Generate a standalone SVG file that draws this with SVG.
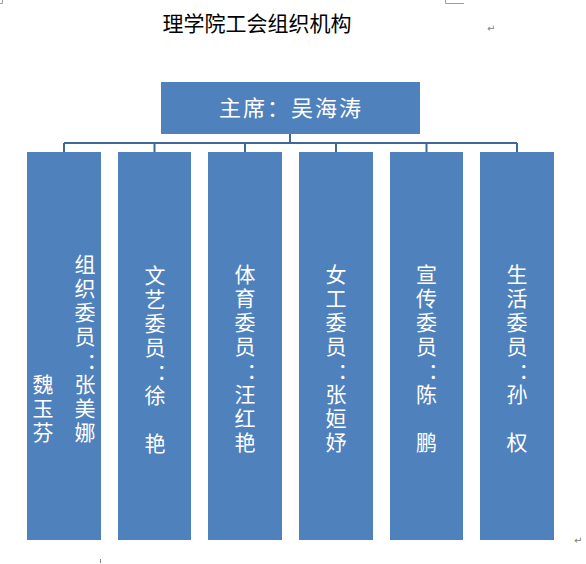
<svg xmlns="http://www.w3.org/2000/svg" width="586" height="564" viewBox="0 0 586 564">
<style>
.box{fill:#4F81BD;}
.lbl{font-family:"Liberation Sans","Noto Sans CJK SC",sans-serif;font-size:21px;fill:#FFFFFF;text-anchor:middle;}
.head{font-family:"Noto Sans CJK SC","Noto Sans",sans-serif;font-size:22px;fill:#FFFFFF;text-anchor:middle;}
.title{font-family:"Noto Sans CJK SC","Noto Sans",sans-serif;font-size:21px;fill:#000000;text-anchor:middle;}
.conn{fill:none;stroke:#41679A;stroke-width:2;}
.mark{fill:none;stroke:#A0A0A0;stroke-width:1;}
.pm{font-family:"DejaVu Sans",sans-serif;font-size:10px;fill:#808080;}
</style>
<rect width="586" height="564" fill="#FFFFFF"/>
<path class="mark" d="M2.5,0 V3.5 H0 M445.5,0 V3.5 H464"/>
<path d="M100.5,559 V563" stroke="#808080" stroke-width="1"/>
<text class="pm" x="487" y="32">↵</text>
<text class="pm" x="574" y="544">↵</text>
<text class="title" x="257" y="31">理学院工会组织机构</text>
<g id="connectors">
<path class="conn" d="M290,134 V143 M64,143 H517 M64,143 V152 M154.5,143 V152 M245,143 V152 M336,143 V152 M426.5,143 V152 M517,143 V152"/>
</g>
<g id="chair">
<rect class="box" x="161" y="82" width="259" height="52"/>
<text class="head" x="291" y="116" letter-spacing="2">主席：吴海涛</text>
</g>
<g id="zuzhi">
<rect class="box" x="27" y="152" width="74" height="388"/>
<text class="lbl"><tspan x="85" y="272">组</tspan><tspan x="85" y="296">织</tspan><tspan x="85" y="320">委</tspan><tspan x="85" y="344">员</tspan><tspan x="97" y="368">：</tspan><tspan x="85" y="392">张</tspan><tspan x="85" y="416">美</tspan><tspan x="85" y="440">娜</tspan></text>
<text class="lbl"><tspan x="43" y="392">魏</tspan><tspan x="43" y="416">玉</tspan><tspan x="43" y="440">芬</tspan></text>
</g>
<g id="wenyi">
<rect class="box" x="118" y="152" width="73" height="388"/>
<text class="lbl"><tspan x="155" y="283">文</tspan><tspan x="155" y="307">艺</tspan><tspan x="155" y="331">委</tspan><tspan x="155" y="355">员</tspan><tspan x="167" y="379">：</tspan><tspan x="155" y="403">徐</tspan><tspan x="155" y="451">艳</tspan></text>
</g>
<g id="tiyu">
<rect class="box" x="208" y="152" width="74" height="388"/>
<text class="lbl"><tspan x="245" y="282">体</tspan><tspan x="245" y="306">育</tspan><tspan x="245" y="330">委</tspan><tspan x="245" y="354">员</tspan><tspan x="257" y="378">：</tspan><tspan x="245" y="402">汪</tspan><tspan x="245" y="426">红</tspan><tspan x="245" y="450">艳</tspan></text>
</g>
<g id="nvgong">
<rect class="box" x="299" y="152" width="74" height="388"/>
<text class="lbl"><tspan x="336" y="282">女</tspan><tspan x="336" y="306">工</tspan><tspan x="336" y="330">委</tspan><tspan x="336" y="354">员</tspan><tspan x="348" y="378">：</tspan><tspan x="336" y="402">张</tspan><tspan x="336" y="426">姮</tspan><tspan x="336" y="450">妤</tspan></text>
</g>
<g id="xuanchuan">
<rect class="box" x="390" y="152" width="73" height="388"/>
<text class="lbl"><tspan x="426.5" y="282">宣</tspan><tspan x="426.5" y="306">传</tspan><tspan x="426.5" y="330">委</tspan><tspan x="426.5" y="354">员</tspan><tspan x="438.5" y="378">：</tspan><tspan x="426.5" y="402">陈</tspan><tspan x="426.5" y="450">鹏</tspan></text>
</g>
<g id="shenghuo">
<rect class="box" x="480" y="152" width="74" height="388"/>
<text class="lbl"><tspan x="517" y="282">生</tspan><tspan x="517" y="306">活</tspan><tspan x="517" y="330">委</tspan><tspan x="517" y="354">员</tspan><tspan x="529" y="378">：</tspan><tspan x="517" y="402">孙</tspan><tspan x="517" y="450">权</tspan></text>
</g>
</svg>
